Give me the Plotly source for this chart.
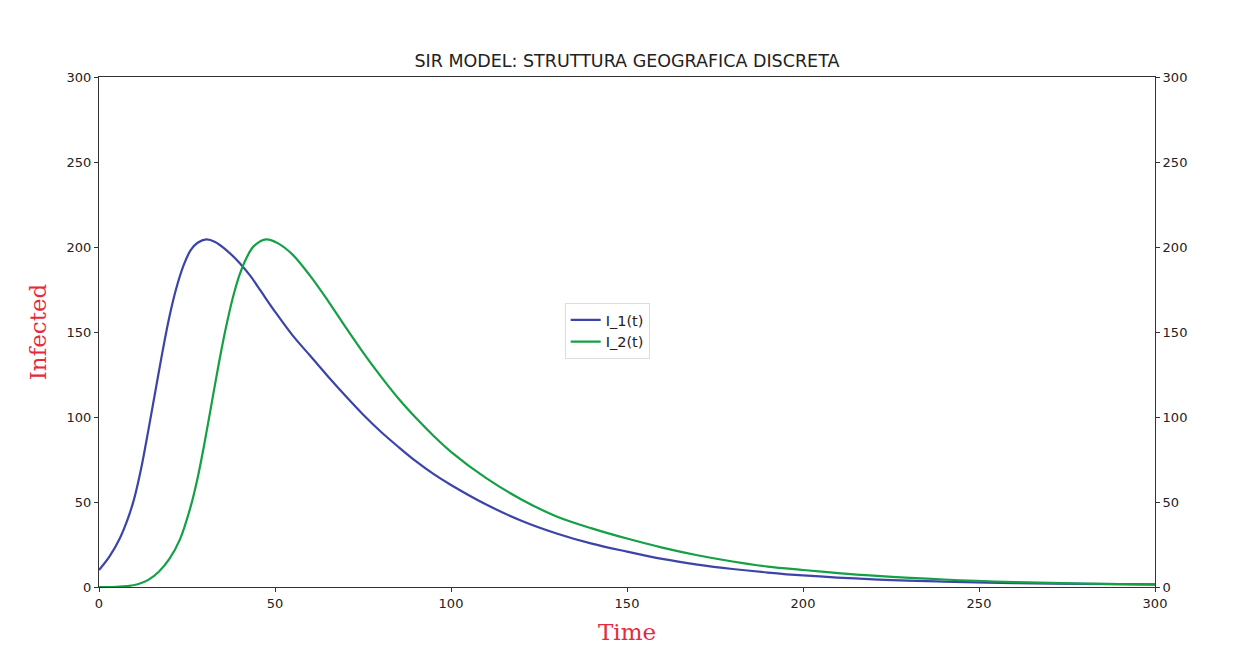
import plotly.graph_objects as go

t_1 = [0, 3, 6, 8, 10, 12, 14, 16, 18, 20, 22, 24, 26, 28, 30.5, 33, 36, 40, 43, 46, 50, 55, 60, 65, 70, 75,
       80, 85, 90, 95, 100, 110, 120, 130, 140, 150, 160, 170, 180, 190, 200, 220, 240, 260, 280, 300]
i_1 = [10, 18, 29, 39, 52, 70, 92, 115, 138, 159, 176, 189, 198, 202.5, 204.5, 203, 198.5, 190.5, 183, 174, 162,
       148, 136, 124, 112.5, 101.5, 91.5, 82.5, 74, 66.5, 60, 48.5, 39, 31.5, 25.5, 20.8, 16.5, 13.2, 10.6,
       8.5, 6.8, 4.5, 3.2, 2.3, 1.8, 1.5]

t_2 = [0, 5, 8, 11, 14, 17, 20, 23, 26, 28, 30, 32, 34, 36, 38, 40, 42, 44, 47.5, 51, 55, 60, 65, 70, 75, 80,
       85, 90, 95, 100, 110, 120, 130, 140, 150, 160, 170, 180, 190, 200, 210, 220, 240, 260, 280, 300]
i_2 = [0, 0.1, 0.5, 1.6, 4.2, 9, 16.5, 28, 47, 64, 85, 108, 131, 152, 170, 184, 194, 200.5, 204.5, 202, 195.5,
       183, 168.5, 153, 138, 124, 111, 99.5, 89, 79.5, 64, 51.5, 41.5, 34.5, 28.5, 23.2, 18.7, 15, 12, 10,
       8.2, 6.7, 4.4, 2.9, 2.0, 1.4]

x_ticks = [0, 50, 100, 150, 200, 250, 300]
y_ticks = [0, 50, 100, 150, 200, 250, 300]

fig = go.Figure()
fig.add_trace(go.Scatter(x=t_1, y=i_1, mode="lines", name="I_1(t)",
                         line=dict(color="#3c44a8", width=2.2, shape="spline", smoothing=1.0)))
fig.add_trace(go.Scatter(x=t_2, y=i_2, mode="lines", name="I_2(t)",
                         line=dict(color="#14a044", width=2.2, shape="spline", smoothing=1.0)))
# invisible trace on right axis to show ticks
fig.add_trace(go.Scatter(x=[0], y=[0], yaxis="y2", mode="markers",
                         marker=dict(opacity=0), showlegend=False, hoverinfo="skip"))

tickfont = dict(family="DejaVu Sans", size=13, color="#222")
fig.update_layout(
    width=1239, height=655,
    margin=dict(l=99, r=84, t=77, b=68),
    paper_bgcolor="white", plot_bgcolor="white",
    title=dict(text="SIR MODEL: STRUTTURA GEOGRAFICA DISCRETA", x=0.506, xanchor="center",
               y=0.907, yanchor="middle",
               font=dict(family="DejaVu Sans", size=17.5, color="#222")),
    xaxis=dict(range=[0, 300], tickvals=x_ticks, ticks="outside", ticklen=4, tickcolor="#333",
               showline=True, linecolor="#333", linewidth=1, mirror=True, showgrid=False,
               zeroline=False, tickfont=tickfont,
               title=dict(text="Time", font=dict(family="DejaVu Serif", size=23, color="#e8283c"),
                          standoff=14)),
    yaxis=dict(range=[0, 300], tickvals=y_ticks, ticks="outside", ticklen=4, tickcolor="#333",
               showline=True, linecolor="#333", linewidth=1, mirror=True, showgrid=False,
               zeroline=False, tickfont=tickfont,
               title=dict(text="Infected", font=dict(family="DejaVu Serif", size=23, color="#e8283c"),
                          standoff=13)),
    yaxis2=dict(range=[0, 300], tickvals=y_ticks, ticks="outside", ticklen=4, tickcolor="#333",
                overlaying="y", side="right", showgrid=False, zeroline=False, showline=False,
                tickfont=tickfont),
    legend=dict(x=0.441, y=0.557, xanchor="left", yanchor="top",
                bgcolor="rgba(255,255,255,0.8)", bordercolor="#ddd", borderwidth=1,
                font=dict(family="DejaVu Sans", size=14.5, color="#222"),
                itemwidth=30, tracegroupgap=0),
    showlegend=True,
)

fig.write_html("out.html")
